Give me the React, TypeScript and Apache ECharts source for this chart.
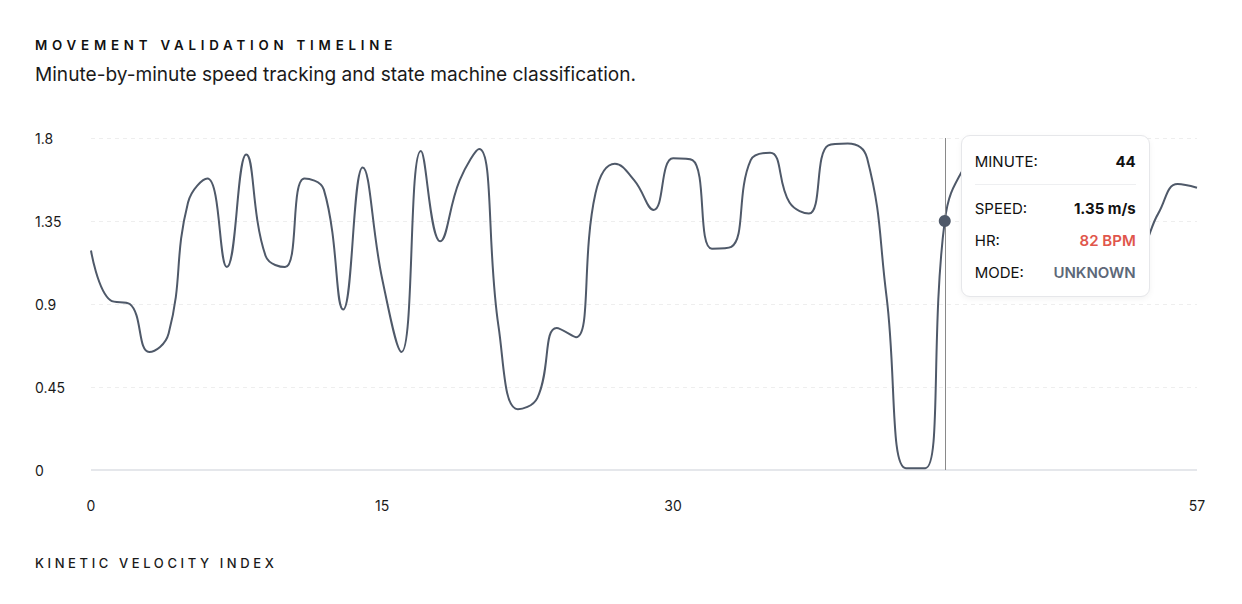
import React, { useEffect, useRef, useState } from "react";
import * as echarts from "echarts";

const minutes: string[] = Array.from({ length: 58 }, (_, i) => String(i));
const speed: number[] = [
  1.19, 0.92, 0.9, 0.64, 0.74, 1.45, 1.58, 1.1, 1.71, 1.16,
  1.1, 1.58, 1.52, 0.87, 1.64, 1.04, 0.64, 1.73, 1.24, 1.57,
  1.74, 0.78, 0.33, 0.39, 0.77, 0.72, 1.5, 1.66, 1.57, 1.41,
  1.69, 1.68, 1.2, 1.21, 1.68, 1.72, 1.45, 1.39, 1.76, 1.77,
  1.69, 0.94, 0.01, 0.01, 1.35, 1.64, 1.72, 1.6, 1.45, 1.62,
  1.5, 1.3, 1.48, 1.35, 1.2, 1.39, 1.55, 1.53,
];
const xTickLabels: number[] = [0, 15, 30, 57];
const yTicks = { min: 0, max: 1.8, interval: 0.45 };
const selected = { minute: 44, speed: 1.35, hr: 82, mode: "UNKNOWN" };

const FONT = "Inter, 'Noto Sans', sans-serif";
const LINE = "#4f5969";

export default function App() {
  const ref = useRef<HTMLDivElement>(null);
  const [tipPos, setTipPos] = useState<[number, number] | null>(null);

  useEffect(() => {
    if (!ref.current) return;
    const chart = echarts.init(ref.current, undefined, { renderer: "svg" });
    chart.setOption({
      animation: false,
      grid: { left: 91, right: 45, top: 138, bottom: 134, containLabel: false },
      xAxis: {
        type: "category",
        data: minutes,
        boundaryGap: false,
        axisLine: { show: false },
        axisTick: { show: false },
        axisLabel: {
          interval: (idx: number) => xTickLabels.includes(idx),
          margin: 28,
          color: "#1a1a1a",
          fontSize: 14,
          fontFamily: FONT,
        },
        splitLine: { show: false },
      },
      yAxis: {
        type: "value",
        min: yTicks.min,
        max: yTicks.max,
        interval: yTicks.interval,
        axisLine: { show: false },
        axisTick: { show: false },
        axisLabel: {
          align: "left",
          margin: 56,
          color: "#1a1a1a",
          fontSize: 14,
          fontFamily: FONT,
        },
        splitLine: {
          show: true,
          lineStyle: { color: "#eeeeee", type: [4, 4], width: 1 },
        },
      },
      series: [
        {
          type: "line",
          data: speed,
          smooth: 0.45,
          showSymbol: false,
          lineStyle: { color: LINE, width: 2 },
          itemStyle: { color: LINE },
          markLine: {
            silent: true,
            symbol: "none",
            label: { show: false },
            lineStyle: { color: "#8a8a8a", width: 1, type: "solid" },
            data: [{ xAxis: selected.minute }],
          },
          markPoint: {
            silent: true,
            symbol: "circle",
            symbolSize: 12,
            itemStyle: { color: LINE },
            label: { show: false },
            data: [{ coord: [selected.minute, selected.speed] }],
          },
        },
        {
          type: "line",
          data: minutes.map(() => 0),
          showSymbol: false,
          silent: true,
          lineStyle: { color: "#e5e7eb", width: 2 },
          z: 1,
        },
      ],
    });
    const p = chart.convertToPixel({ seriesIndex: 0 }, [selected.minute, selected.speed]) as number[];
    setTipPos([p[0], p[1]]);
    return () => chart.dispose();
  }, []);

  const rowStyle: React.CSSProperties = {
    display: "flex",
    justifyContent: "space-between",
    alignItems: "center",
    height: 32,
  };

  return (
    <div
      style={{
        position: "absolute",
        left: 0,
        top: 0,
        width: 1242,
        height: 604,
        background: "#ffffff",
        fontFamily: FONT,
      }}
    >
      <div ref={ref} style={{ position: "absolute", left: 0, top: 0, width: 1242, height: 604 }} />
      <div
        style={{
          position: "absolute",
          left: 35,
          top: 37,
          fontSize: 13.3,
          fontWeight: 600,
          letterSpacing: "4.8px",
          color: "#111111",
          whiteSpace: "nowrap",
        }}
      >
        MOVEMENT VALIDATION TIMELINE
      </div>
      <div
        style={{
          position: "absolute",
          left: 35,
          top: 62,
          fontSize: 19.1,
          color: "#1a1a1a",
          whiteSpace: "nowrap",
        }}
      >
        Minute-by-minute speed tracking and state machine classification.
      </div>
      <div
        style={{
          position: "absolute",
          left: 35,
          top: 555,
          fontSize: 13,
          fontWeight: 500,
          letterSpacing: "3.6px",
          color: "#1a1a1a",
          whiteSpace: "nowrap",
        }}
      >
        KINETIC VELOCITY INDEX
      </div>
      {tipPos && (
        <div
          style={{
            position: "absolute",
            left: tipPos[0] + 16,
            top: 135,
            width: 189,
            height: 162,
            boxSizing: "border-box",
            background: "#ffffff",
            border: "1px solid #e6e7ea",
            borderRadius: 9,
            boxShadow: "0 2px 6px rgba(0,0,0,0.05)",
            padding: "13px 13px 0 13px",
            fontSize: 15,
            color: "#111111",
          }}
        >
          <div style={{ ...rowStyle, height: 24 }}>
            <span>MINUTE:</span>
            <span style={{ fontWeight: 700 }}>{selected.minute}</span>
          </div>
          <div style={{ height: 1, background: "#eeeff1", marginTop: 11, marginBottom: 7 }} />
          <div style={rowStyle}>
            <span>SPEED:</span>
            <span style={{ fontWeight: 700 }}>{selected.speed.toFixed(2)} m/s</span>
          </div>
          <div style={rowStyle}>
            <span>HR:</span>
            <span style={{ fontWeight: 600, color: "#e0564b" }}>{selected.hr} BPM</span>
          </div>
          <div style={rowStyle}>
            <span>MODE:</span>
            <span style={{ fontWeight: 600, color: "#5d6878" }}>{selected.mode}</span>
          </div>
        </div>
      )}
    </div>
  );
}
